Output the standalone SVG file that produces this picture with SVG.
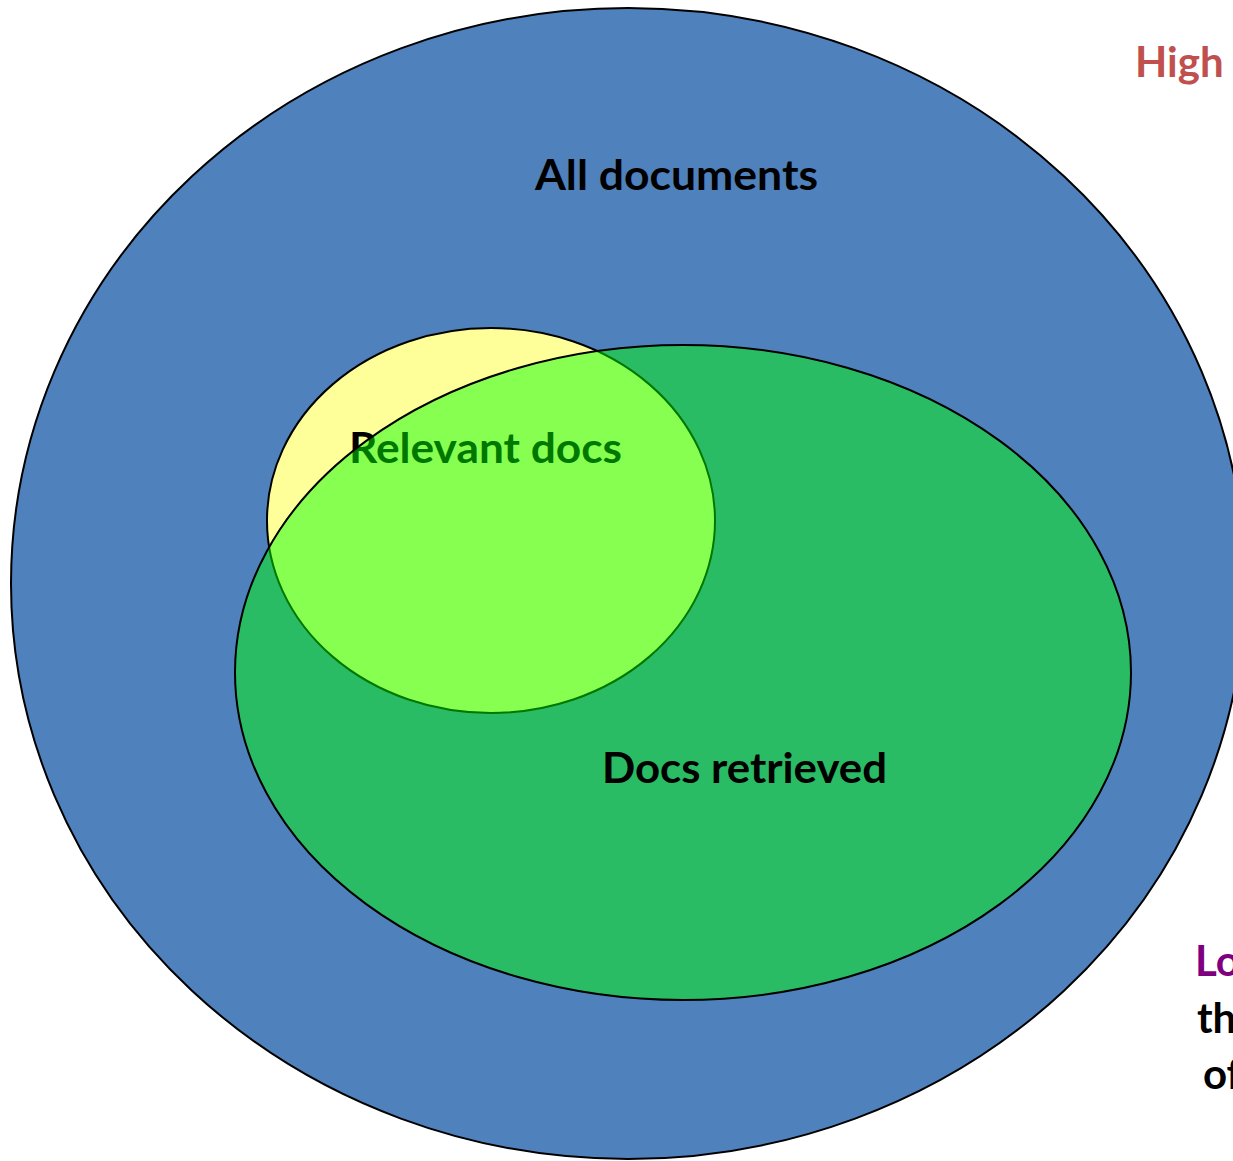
<svg xmlns="http://www.w3.org/2000/svg" width="1233" height="1161" viewBox="0 0 1233 1161">
  <style>
    .lbl { font-family: Lato, "Open Sans", "Liberation Sans", sans-serif; font-weight: bold; font-size: 42px; fill: #000000; }
    .edge { stroke: #000000; stroke-width: 2; }
  </style>
  <rect x="0" y="0" width="1233" height="1161" fill="#FFFFFF"/>
  <g id="all-documents">
    <ellipse class="edge" cx="628" cy="583.5" rx="617" ry="575.5" fill="#4F81BD"/>
    <text class="lbl" x="535" y="190" textLength="283" lengthAdjust="spacingAndGlyphs">All documents</text>
  </g>
  <g id="relevant-docs">
    <ellipse class="edge" cx="491" cy="520.5" rx="224" ry="192.5" fill="#FFFF99"/>
    <text class="lbl" x="349" y="463" textLength="273" lengthAdjust="spacingAndGlyphs">Relevant docs</text>
  </g>
  <g id="docs-retrieved">
    <ellipse class="edge" cx="683" cy="672.5" rx="448" ry="327.5" fill="#00FF00" fill-opacity="0.47"/>
    <text class="lbl" x="602" y="783" textLength="285" lengthAdjust="spacingAndGlyphs">Docs retrieved</text>
  </g>
  <g id="side-notes">
    <text class="lbl" x="1135" y="77" style="fill:#C0504D">High</text>
    <text class="lbl" x="1195" y="976" style="fill:#7F007F">Lo</text>
    <text class="lbl" x="1197" y="1033">th</text>
    <text class="lbl" x="1203" y="1089">of</text>
  </g>
  <g id="connectors"></g>
</svg>
